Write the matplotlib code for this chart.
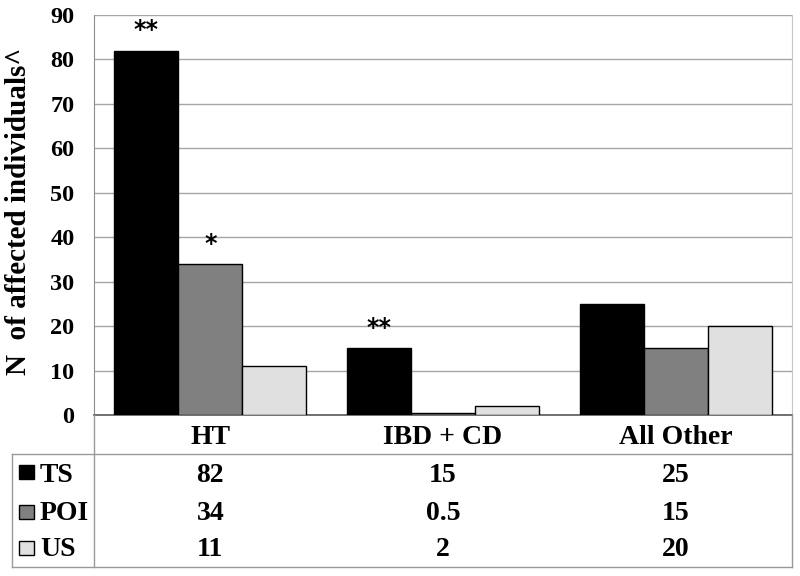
import matplotlib
matplotlib.use("Agg")
import matplotlib.pyplot as plt
import numpy as np
from matplotlib.lines import Line2D
from matplotlib.patches import Rectangle
import matplotlib.transforms as mtransforms

categories = ["HT", "IBD + CD", "All Other"]
series_names = ["TS", "POI", "US"]
ts_values = [82, 15, 25]
poi_values = [34, 0.5, 15]
us_values = [11, 2, 20]
table_text = [["82", "15", "25"], ["34", "0.5", "15"], ["11", "2", "20"]]
# significance marks: (series index, category index, mark)
sig_marks = [(0, 0, "**"), (1, 0, "*"), (0, 1, "**")]
colors = ["#000000", "#808080", "#e0e0e0"]
yticks = list(range(0, 91, 10))

W, H = 800, 576
fig = plt.figure(figsize=(8, 5.76), dpi=100)
serif = "Liberation Serif"

def fx(px):
    return px / W

def fy(py):
    return 1 - py / H

ax = fig.add_axes([fx(94), fy(415), fx(792) - fx(94), fy(15) - fy(415)])
values = [ts_values, poi_values, us_values]
x = np.arange(len(categories))
bw = 0.275
for i, (vals, c) in enumerate(zip(values, colors)):
    ax.bar(x + (i - 1) * bw, vals, width=bw, color=c, edgecolor="black",
           linewidth=1.0, zorder=3)

ax.set_xlim(-0.5, len(categories) - 0.5)
ax.set_ylim(0, 90)
ax.set_yticks(yticks)
ax.set_yticklabels([str(t) for t in yticks], fontfamily=serif,
                   fontweight="bold", fontsize=17.5)
ax.tick_params(axis="y", length=0, pad=14)
ax.yaxis.grid(True, color="#a6a6a6", linewidth=1.0, zorder=0)
ax.set_axisbelow(True)
ax.set_xticks(x)
ax.set_xticklabels(categories, fontfamily=serif, fontweight="bold", fontsize=20)
ax.tick_params(axis="x", length=0, pad=7)
ax.spines["top"].set_visible(False)
ax.spines["left"].set_color("#8c8c8c")
ax.spines["right"].set_color("#c8c8c8")
ax.spines["bottom"].set_color("#595959")
ax.spines["bottom"].set_linewidth(1.2)

ax.set_ylabel("N  of affected individuals^", fontfamily=serif,
              fontweight="bold", fontsize=21)
ax.yaxis.label.set_va("center")
ax.yaxis.set_label_coords((19 - 94) / (792 - 94), (415 - 211) / 400)

for si, ci, mark in sig_marks:
    ax.annotate(mark, (x[ci] + (si - 1) * bw, values[si][ci]),
                xytext=(0, 6), textcoords="offset points",
                ha="center", va="bottom", fontsize=17, fontweight="bold",
                family="DejaVu Sans", zorder=4)

# table lines
lc = "#999999"
def hline(y, x0, x1):
    fig.add_artist(Line2D([fx(x0), fx(x1)], [fy(y), fy(y)], color=lc, lw=1.0,
                          transform=fig.transFigure))
def vline(xp, y0, y1):
    fig.add_artist(Line2D([fx(xp), fx(xp)], [fy(y0), fy(y1)], color=lc, lw=1.0,
                          transform=fig.transFigure))

hline(454, 12, 792)
hline(567, 12, 792)
vline(12, 454, 567)
vline(94, 415, 567)
vline(792, 415, 567)

row_y = [475, 513, 550]
sq_y = [472, 511.5, 547.5]
blend = mtransforms.blended_transform_factory(ax.transData, fig.transFigure)
for r, name in enumerate(series_names):
    fig.add_artist(Rectangle((fx(19), fy(sq_y[r] + 7)), fx(15), fy(0) - fy(14),
                             facecolor=colors[r], edgecolor="black", lw=1.0,
                             transform=fig.transFigure))
    fig.text(fx(40), fy(row_y[r]), name, ha="left", va="center",
             fontfamily=serif, fontweight="bold", fontsize=20)
    for ci in range(len(categories)):
        ax.text(x[ci], fy(row_y[r]), table_text[r][ci], transform=blend,
                ha="center", va="center", fontfamily=serif, fontweight="bold",
                fontsize=20, clip_on=False)

fig.savefig("out.png", dpi=100)
